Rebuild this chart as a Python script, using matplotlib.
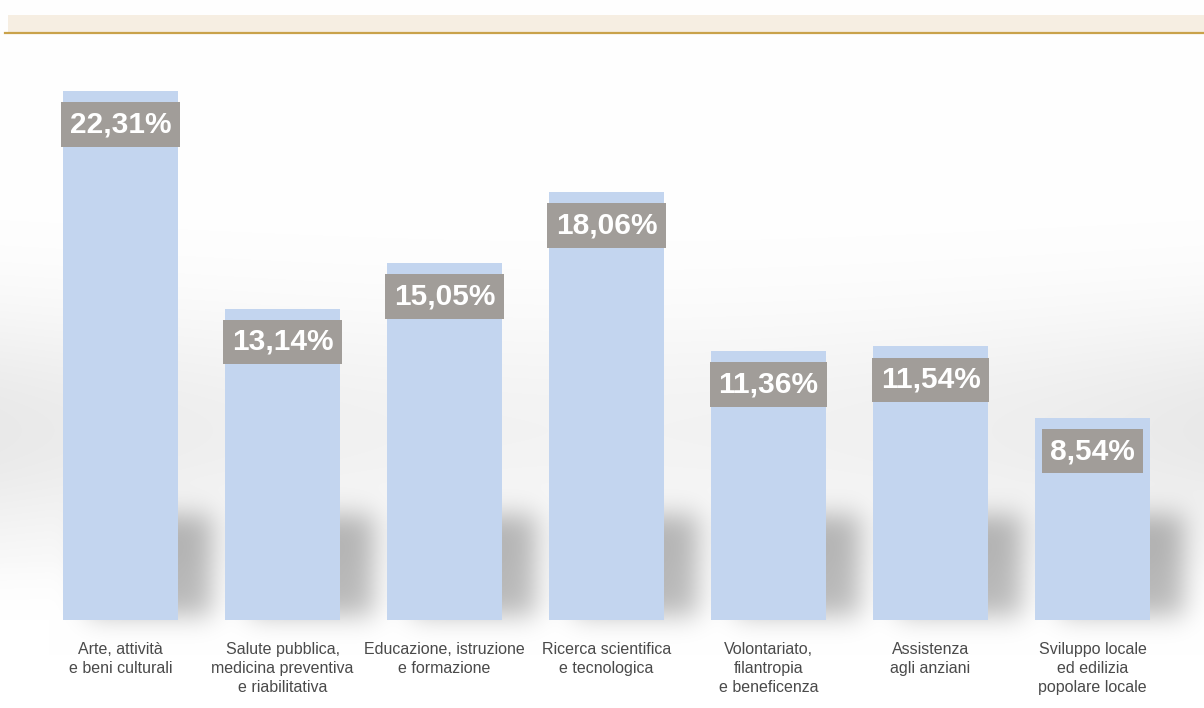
import numpy as np
import matplotlib.pyplot as plt
from matplotlib.patches import Rectangle

# Data
categories = [
    "Arte, attività\ne beni culturali",
    "Salute pubblica,\nmedicina preventiva\ne riabilitativa",
    "Educazione, istruzione\ne formazione",
    "Ricerca scientifica\ne tecnologica",
    "Volontariato,\nfilantropia\ne beneficenza",
    "Assistenza\nagli anziani",
    "Sviluppo locale\ned edilizia\npopolare locale",
]
values = [22.31, 13.14, 15.05, 18.06, 11.36, 11.54, 8.54]

W, H = 1204, 708
BAR_COLOR = "#C3D5EF"
BOX_COLOR = "#A19D99"
FONT = "Liberation Sans"

fig = plt.figure(figsize=(W / 100, H / 100), dpi=100)
fig.patch.set_facecolor("white")
ax = fig.add_axes([0, 0, 1, 1])

# axis limits chosen so bars land where the original placed them
x0, x1 = -0.744, 6.688
y0, y1 = -3.713, 26.16
ax.set_xlim(x0, x1)
ax.set_ylim(y0, y1)
ax.axis("off")

x = np.arange(len(values))
bar_w = 0.71

# background: soft grey "wall" with floor shadows behind every bar
yy, xx = np.mgrid[0:H, 0:W].astype(float)
edge = 0.55 + 0.45 * ((xx - W / 2) / (W / 2)) ** 2
wall = 0.085 * np.exp(-((yy - 430) / 120) ** 2) * edge
wall[yy > 560] *= np.clip(1 - (yy[yy > 560] - 560) / 60, 0, 1)

def to_px(xd, yd):
    px = (xd - x0) / (x1 - x0) * W
    py = (y1 - yd) / (y1 - y0) * H
    return px, py

shadow = np.zeros((H, W))
for xi, v in zip(x, values):
    left, _ = to_px(xi - bar_w / 2, 0)
    right, base = to_px(xi + bar_w / 2, 0)
    _, top = to_px(xi, v)
    s_top = max(top, base - 105)
    shadow[int(s_top):int(base) - 4, int(left) + 25:int(right) + 34] = 1.0

def blur(a, sigma):
    k = np.arange(-3 * sigma, 3 * sigma + 1)
    k = np.exp(-(k / sigma) ** 2 / 2)
    k /= k.sum()
    a = np.array([np.convolve(r, k, mode="same") for r in a])
    a = np.array([np.convolve(c, k, mode="same") for c in a.T]).T
    return a

shadow = blur(shadow, 13)
dark = 1 - wall - 0.27 * shadow
bg = np.clip(np.dstack([dark, dark, dark]), 0, 1)
ax.imshow(bg, extent=(x0, x1, y0, y1), origin="upper", aspect="auto", zorder=0)

# bars
ax.bar(x, values, width=bar_w, color=BAR_COLOR, zorder=2)

# value labels in grey boxes
for xi, v in zip(x, values):
    label = f"{v:.2f}".replace(".", ",") + "%"
    ax.text(xi, v - 1.41, label, ha="center", va="center", color="white",
            fontsize=21.5, fontweight="bold", family=FONT, zorder=3,
            bbox=dict(boxstyle="square,pad=0.28", fc=BOX_COLOR, ec="none"))

# category names under the bars
for xi, c in zip(x, categories):
    ax.text(xi, -0.92, c, ha="center", va="top", color="#4A4A4A",
            fontsize=11.5, family=FONT, linespacing=1.36, zorder=3)

# header band
fig.patches.append(Rectangle((8 / W, 1 - 32 / H), 1, 17 / H,
                             transform=fig.transFigure, fc="#F6EEE2", ec="none"))
fig.add_artist(plt.Line2D([5 / W, 1], [1 - 32.5 / H, 1 - 32.5 / H],
                          transform=fig.transFigure, color="#C9A24A", lw=1.6))

fig.savefig("out.png", dpi=100)
